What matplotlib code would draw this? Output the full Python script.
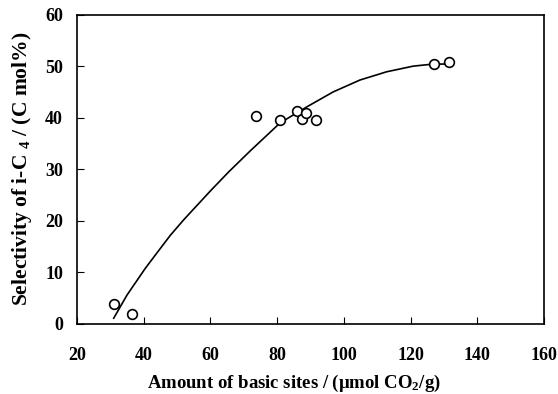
import matplotlib
matplotlib.use("Agg")
import matplotlib.pyplot as plt

# measured points
basic_sites = [31.0, 36.5, 73.8, 80.8, 86.0, 87.5, 88.5, 91.5, 127.0, 131.5]
selectivity = [3.9, 1.9, 40.4, 39.5, 41.2, 39.8, 41.0, 39.5, 50.5, 50.8]

# fitted trend line
fit_x = [31.0, 35.0, 40.5, 44.0, 48.0, 52.0, 60.0, 65.5, 72.0, 80.9,
         88.9, 96.8, 104.8, 112.8, 120.8, 126.8, 131.8]
fit_y = [1.1, 5.6, 10.8, 13.8, 17.2, 20.2, 25.8, 29.5, 33.6, 39.0,
         42.1, 45.0, 47.3, 48.9, 50.0, 50.4, 50.4]

plt.rcParams['font.family'] = 'Liberation Serif'
plt.rcParams['font.weight'] = 'bold'
plt.rcParams['mathtext.fontset'] = 'custom'
plt.rcParams['mathtext.rm'] = 'Liberation Serif:bold'
plt.rcParams['mathtext.it'] = 'Liberation Serif:bold'
plt.rcParams['mathtext.bf'] = 'Liberation Serif:bold'
plt.rcParams['mathtext.default'] = 'rm'

fig = plt.figure(figsize=(5.58, 3.94), dpi=100)
ax = fig.add_axes([0.138, 0.178, 0.837, 0.785])

ax.plot(fit_x, fit_y, color='black', lw=1.2)
ax.plot(basic_sites, selectivity, 'o', mfc='white', mec='black',
        mew=1.2, ms=7)

ax.set_xlim(20, 160)
ax.set_ylim(0, 60)
ax.set_xticks(range(20, 161, 20))
ax.set_yticks(range(0, 61, 10))
ax.tick_params(axis='x', direction='in', length=5, pad=17, labelsize=13,
               top=False)
ax.tick_params(axis='y', direction='in', length=5, pad=10, labelsize=13,
               right=False)
for lab in ax.get_xticklabels() + ax.get_yticklabels():
    lab.set_fontweight('bold')
for s in ax.spines.values():
    s.set_linewidth(1.2)

ax.set_xlabel('Amount of basic sites / (\u03bcmol CO$_2$/g)', fontsize=13.5,
              fontweight='bold')
ax.xaxis.set_label_coords(0.465, -0.158)
ax.set_ylabel('Selectivity of i-C $_4$ / (C mol%)', fontsize=15.5,
              fontweight='bold', labelpad=8)

fig.savefig('out.png', dpi=100)
